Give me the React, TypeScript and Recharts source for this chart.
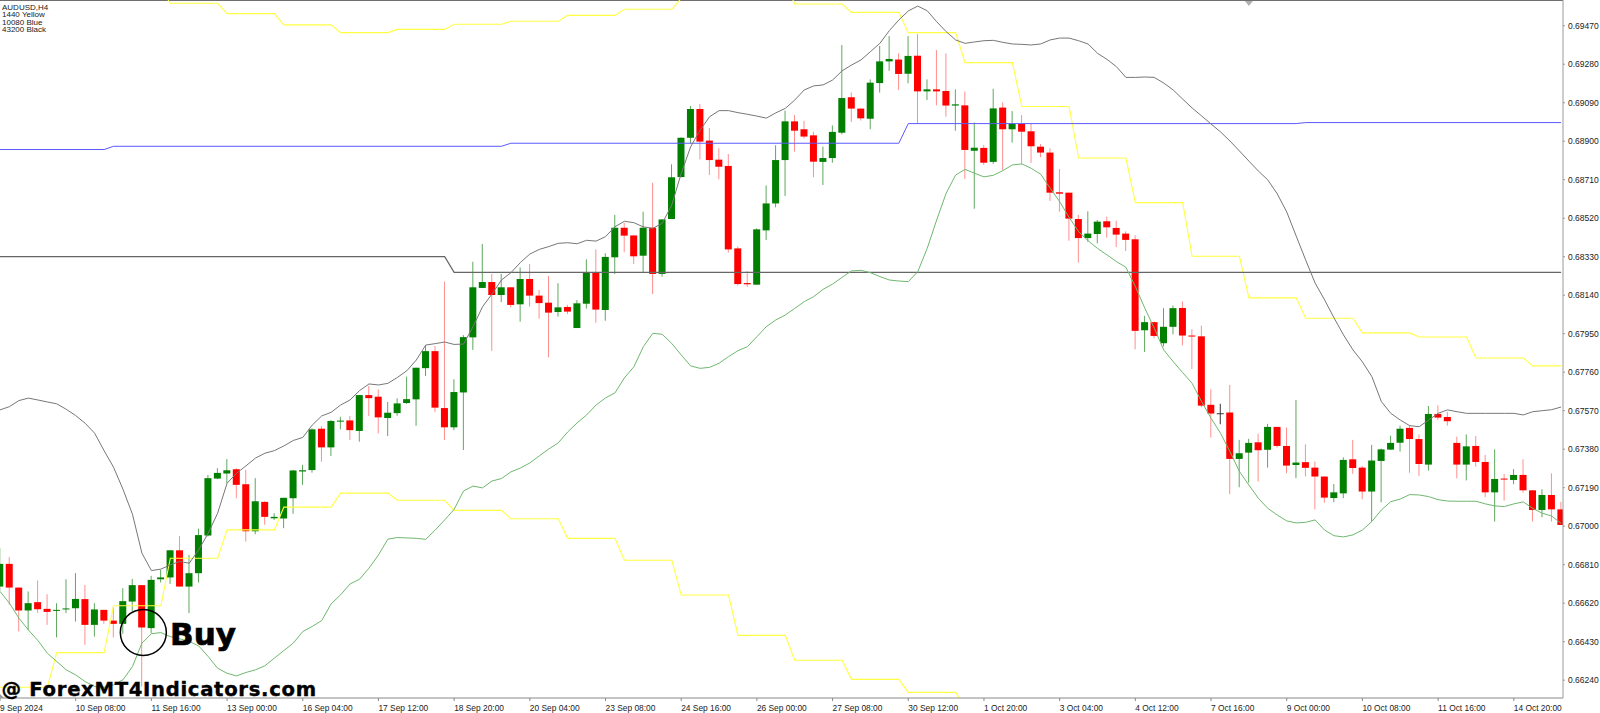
import React from 'react';
import { ComposedChart, Bar, Line, XAxis, YAxis, ReferenceDot, ReferenceLine } from 'recharts';

// AUDUSD H4, prices in points (1 point = 0.00001), one entry per bar
const opens = [
  66702,66814,66697,66584,66625,66592,66582,66589,66595,66640,
  66513,66587,66534,66518,66628,66709,66497,66738,66747,66881,
  66702,66768,66954,67235,67260,67281,67207,66975,67120,67039,
  67038,67138,67270,67277,67481,67389,67516,67522,67470,67647,
  67639,67534,67558,67608,67626,67780,67864,67583,67488,67660,
  67932,68176,68205,68141,68179,68095,68220,68138,68103,68057,
  68082,67978,68098,68254,68067,68327,68473,68435,68335,68473,
  68245,68516,68723,68917,69059,68903,68809,68778,68371,68200,
  68192,68460,68593,68807,68998,68959,68929,68798,68817,68942,
  69117,69061,69011,69187,69294,69303,69233,69322,69146,69156,
  69148,69076,69077,68853,68867,68798,69066,68959,68985,68949,
  68873,68844,68648,68646,68516,68422,68442,68505,68472,68444,
  68416,67967,68007,67903,67984,68077,67941,67937,67599,67555,
  67561,67332,67363,67414,67377,67490,67396,67302,67316,67289,
  67245,67139,67162,67330,67289,67171,67322,67378,67412,67485,
  67430,67304,67554,67539,67411,67304,67396,67317,67167,67235,
  67228,67253,67177,67080,67154,67083,
];
const highs = [
  66891,66847,66697,66678,66732,66664,66620,66738,66768,66710,
  66620,66587,66604,66694,66740,66709,66755,66784,66881,66951,
  66858,66988,67253,67286,67331,67286,67278,67237,67123,67064,
  67140,67278,67303,67483,67494,67524,67540,67544,67647,67692,
  67675,67613,67631,67738,67782,67894,67889,68207,67725,67943,
  68305,68393,68245,68245,68179,68277,68294,68166,68235,68199,
  68092,68116,68317,68366,68347,68537,68498,68435,68552,68695,
  68514,68786,68919,69074,69084,68965,68865,68837,68380,68259,
  68470,68682,68880,69051,69029,69001,68947,68873,68978,69375,
  69141,69061,69205,69370,69419,69334,69419,69429,69205,69350,
  69334,69156,69145,68992,68881,69159,69092,69049,69029,68988,
  68886,68865,68763,68646,68536,68554,68511,68528,68508,68455,
  68436,68038,68010,68076,68089,68109,67972,67990,67676,67604,
  67697,67426,67431,67456,67505,67490,67487,67623,67404,67319,
  67245,67208,67340,67426,67297,67401,67383,67447,67496,67500,
  67453,67593,67597,67565,67442,67453,67445,67352,67379,67258,
  67282,67330,67179,67182,67261,67120,
];
const lows = [
  66678,66612,66480,66488,66571,66513,66451,66571,66529,66414,
  66455,66518,66451,66469,66579,66209,66472,66722,66715,66702,
  66571,66722,66949,67232,67212,67138,66924,66960,67007,67031,
  66990,67061,67204,67264,67318,67346,67478,67425,67417,67544,
  67458,67445,67545,67603,67496,67741,67563,67425,67474,67376,
  67870,68176,67865,68106,68080,68009,68083,68024,67833,68034,
  68047,67978,68074,68004,68014,68245,68352,68294,68254,68146,
  68231,68516,68722,68889,68810,68733,68712,68350,68187,68180,
  68192,68412,68574,68630,68849,68914,68722,68684,68794,68934,
  68995,69002,68959,69140,69247,69153,69186,68988,69103,69077,
  69021,68952,68714,68567,68783,68788,68758,68893,68786,68793,
  68821,68605,68552,68409,68301,68404,68396,68424,68378,68358,
  67873,67860,67928,67887,67947,67893,67776,67587,67437,67503,
  67158,67192,67215,67220,67289,67388,67261,67237,67245,67083,
  67116,67118,67138,67258,67133,67023,67118,67376,67368,67264,
  67248,67274,67524,67496,67236,67226,67294,67143,67023,67126,
  67207,67166,67023,67044,67023,67006,
];
const closes = [
  66814,66697,66584,66620,66590,66577,66587,66594,66641,66513,
  66589,66534,66518,66630,66709,66500,66735,66747,66881,66702,
  66768,66956,67237,67263,67276,67204,66975,67123,67046,67046,
  67140,67275,67276,67478,67389,67519,67521,67474,67647,67632,
  67537,67560,67606,67627,67782,67864,67585,67488,67662,67933,
  68179,68205,68141,68179,68092,68220,68138,68101,68054,68080,
  68059,68100,68254,68069,68329,68473,68434,68332,68473,68245,
  68514,68722,68917,69059,68898,68807,68774,68366,68195,68194,
  68465,68593,68807,68998,68952,68923,68799,68817,68946,69113,
  69061,69013,69189,69294,69306,69232,69321,69146,69156,69146,
  69076,69082,68857,68868,68794,69062,68959,68985,68947,68875,
  68844,68646,68641,68518,68422,68444,68503,68475,68439,68413,
  67964,68007,67939,67984,68076,67941,67936,67595,67556,67555,
  67332,67360,67411,67375,67490,67396,67299,67314,67288,67245,
  67141,67167,67327,67287,67171,67324,67379,67411,67481,67430,
  67307,67554,67536,67518,67304,67394,67317,67167,67233,67230,
  67253,67177,67080,67154,67083,67006,
];
const upperBand = [
  67574,67590,67620,67632,67623,67613,67604,67577,67546,67508,
  67459,67373,67291,67182,67059,66867,66781,66788,66809,66826,
  66817,66883,66965,67064,67212,67261,67298,67336,67360,67373,
  67396,67423,67438,67499,67544,67562,67598,67623,67669,67702,
  67697,67705,67734,67767,67820,67894,67901,67909,67897,67899,
  67985,68083,68146,68215,68251,68301,68343,68366,68380,68396,
  68399,68394,68411,68407,68429,68478,68505,68498,68477,68470,
  68495,68585,68741,68873,68955,69021,69051,69051,69041,69033,
  69024,69014,69040,69062,69103,69153,69173,69178,69202,69247,
  69276,69301,69342,69383,69446,69498,69543,69567,69544,69490,
  69441,69400,69383,69390,69396,69398,69388,69380,69378,69375,
  69380,69400,69409,69409,69396,69380,69334,69304,69268,69215,
  69215,69217,69215,69187,69153,69108,69064,69025,68985,68946,
  68901,68852,68802,68753,68709,68640,68551,68432,68314,68200,
  68117,68028,67944,67870,67811,67738,67615,67557,67524,67496,
  67491,67524,67557,67574,67565,67557,67557,67557,67557,67557,
  67557,67549,67565,67570,67575,67588,
];
const lowerBand = [
  66678,66620,66546,66488,66436,66373,66332,66291,66266,66233,
  66209,66205,66217,66242,66307,66423,66469,66475,66455,66444,
  66431,66409,66357,66299,66274,66261,66278,66291,66311,66349,
  66386,66423,66480,66505,66534,66617,66661,66715,66738,66793,
  66858,66936,66944,66942,66940,66935,66981,67031,67083,67174,
  67198,67189,67223,67235,67268,67287,67312,67347,67381,67411,
  67465,67510,67549,67598,67633,67658,67732,67787,67886,67952,
  67947,67902,67845,67791,67779,67784,67804,67837,67866,67886,
  67935,67985,68018,68042,68075,68108,68133,68169,68195,68228,
  68260,68263,68251,68232,68215,68210,68207,68256,68371,68511,
  68643,68733,68761,68742,68724,68732,68755,68783,68788,68766,
  68737,68668,68602,68524,68454,68409,68371,68339,68306,68278,
  68183,68076,67977,67870,67812,67758,67705,67615,67533,67459,
  67368,67270,67203,67138,67088,67055,67026,67016,67019,67031,
  66981,66953,66947,66957,66981,67023,67080,67121,67134,67156,
  67154,67146,67131,67124,67123,67123,67123,67110,67100,67097,
  67110,67120,67088,67064,67050,67014,
];

// stepped levels as [bar, price] corners, straight between them
const yellowTop = [
  [17,69650],[18,69581],[23,69581],[24,69530],[29,69530],[30,69474],[35,69474],[36,69436],[41,69436],[42,69452],
  [47,69452],[48,69477],[53,69477],[54,69492],[59,69492],[60,69521],[65,69521],[66,69551],[71,69551],[72,69605],
  [83,69680],[84,69577],[89,69577],[90,69536],[95,69536],[96,69436],[101,69436],[102,69288],[107,69288],[108,69071],
  [113,69071],[114,68817],[119,68817],[120,68597],[125,68597],[126,68332],[131,68332],[132,68127],[137,68127],[138,68026],
  [143,68026],[144,67954],[149,67954],[150,67934],[155,67934],[156,67830],[161,67830],[162,67791],[165,67791],
];
const yellowBottom = [
  [0,66205],[5,66205],[6,66376],[11,66376],[12,66607],[17,66607],[18,66842],[23,66842],[24,66982],[29,66982],
  [30,67094],[35,67094],[36,67163],[41,67163],[42,67128],[47,67128],[48,67078],[53,67078],[54,67037],[59,67037],
  [60,66940],[65,66940],[66,66832],[71,66832],[72,66660],[77,66660],[78,66461],[83,66461],[84,66338],[89,66338],
  [90,66244],[95,66244],[96,66180],[101,66180],[102,66109],
];
const blueLevel = [[0,68859],[11,68859],[12,68875],[53,68875],[54,68890],[95,68890],[96,68987],[137,68987],[138,68992],[165,68992]];
const blackLevel = [[0,68330],[47,68330],[48,68253],[165,68253]];

const priceTicks = [69470,69280,69090,68900,68710,68520,68330,68140,67950,67760,67570,67380,67190,67000,66810,66620,66430,66240];
const timeLabels = [
  '9 Sep 2024','10 Sep 08:00','11 Sep 16:00','13 Sep 00:00','16 Sep 04:00','17 Sep 12:00','18 Sep 20:00',
  '20 Sep 04:00','23 Sep 08:00','24 Sep 16:00','26 Sep 00:00','27 Sep 08:00','30 Sep 12:00','1 Oct 20:00',
  '3 Oct 04:00','4 Oct 12:00','7 Oct 16:00','9 Oct 00:00','10 Oct 08:00','11 Oct 16:00','14 Oct 20:00',
];
const BARS_PER_LABEL = 8;
const timeTicks = timeLabels.map((_, i) => i * BARS_PER_LABEL);

const corners = (pairs: number[][]) => new Map(pairs.map(([k, v]) => [k, v]));
const yTop = corners(yellowTop);
const yBottom = corners(yellowBottom);
const blue = corners(blueLevel);
const black = corners(blackLevel);

const rows = opens.map((open, k) => ({
  k,
  open,
  high: highs[k],
  low: lows[k],
  close: closes[k],
  upper: upperBand[k],
  lower: lowerBand[k],
  yellowTop: yTop.get(k) ?? null,
  yellowBottom: yBottom.get(k) ?? null,
  blue: blue.get(k) ?? null,
  black: black.get(k) ?? null,
}));

const AXIS_FONT = '"Liberation Sans", Arial, sans-serif';

function Candle(props: any) {
  const { x, y, width, height, payload } = props;
  const { open, high, low, close } = payload;
  const perPoint = height / (high - low);
  const top = y + (high - Math.max(open, close)) * perPoint;
  const bodyH = Math.max(Math.abs(open - close) * perPoint, 1);
  const mid = x + width / 2;
  const doji = open === close;
  const up = close > open;
  const body = up ? '#007f00' : '#ff0000';
  const wick = doji ? '#333333' : up ? '#5fa85f' : '#ff8f8f';
  return (
    <g>
      <line x1={mid} x2={mid} y1={y} y2={y + height} stroke={wick} strokeWidth={1} />
      {doji ? (
        <line x1={x} x2={x + width} y1={top} y2={top} stroke={wick} strokeWidth={1} />
      ) : (
        <rect x={x} y={top} width={width} height={bodyH} fill={body} />
      )}
    </g>
  );
}

function TimeTick({ x, y, payload }: any) {
  const label = timeLabels[payload.value / BARS_PER_LABEL];
  return (
    <text x={x} y={y + 8} fontSize={8.4} fontFamily={AXIS_FONT} fill="#222" textAnchor="start">
      {label}
    </text>
  );
}

function PriceTick({ x, y, payload }: any) {
  return (
    <text x={x + 1} y={y + 3} fontSize={8.5} fontFamily={AXIS_FONT} fill="#222" textAnchor="start">
      {(payload.value / 100000).toFixed(5)}
    </text>
  );
}

const Marker = ({ cx, cy }: any) => <path d={`M${cx - 4} ${cy + 1}h8l-4 5z`} fill="#b0b0b0" />;
const Corner = ({ cx, cy }: any) => <path d={`M${cx} ${cy - 4}l4 4h-4z`} fill="#999" />;

const levelLine = (key: string, color: string, width = 1) => (
  <Line
    key={key}
    dataKey={key}
    stroke={color}
    strokeWidth={width}
    dot={false}
    activeDot={false}
    connectNulls
    type="linear"
    isAnimationActive={false}
  />
);

export default function App() {
  return (
    <div style={{ position: 'absolute', left: 0, top: 0, width: 1600, height: 713, background: '#fff', overflow: 'hidden' }}>
      <ComposedChart width={1600} height={713} data={rows} margin={{ top: 0, right: 0, bottom: 0, left: 0 }}>
        <XAxis
          dataKey="k"
          type="number"
          domain={[0, 165.2]}
          ticks={timeTicks}
          height={15}
          tick={<TimeTick />}
          tickSize={3}
          interval={0}
          stroke="#8a8a8a"
          allowDataOverflow
        />
        <YAxis
          orientation="right"
          type="number"
          domain={[66152, 69597]}
          ticks={priceTicks}
          width={37}
          tick={<PriceTick />}
          tickSize={2}
          interval={0}
          stroke="#9a9a9a"
          allowDataOverflow
        />
        <ReferenceLine y={69597} stroke="#6f6f6f" strokeWidth={2} ifOverflow="visible" />
        {levelLine('yellowTop', '#ffff44', 1.1)}
        {levelLine('yellowBottom', '#ffff44', 1.1)}
        {levelLine('blue', '#5a5aff')}
        {levelLine('black', '#666666', 1.2)}
        {levelLine('upper', '#777777')}
        {levelLine('lower', '#6fb86f')}
        <Bar dataKey={(d: any) => [d.low, d.high]} barSize={7} shape={<Candle />} isAnimationActive={false} />
        <ReferenceDot x={15.15} y={66475} r={23} fill="none" stroke="#000" strokeWidth={1.5} ifOverflow="visible" />
        <ReferenceDot x={132} y={69597} r={4} shape={<Marker />} ifOverflow="visible" />
        <ReferenceDot x={0} y={66152} r={4} shape={<Corner />} ifOverflow="visible" />
      </ComposedChart>
      <svg width={1600} height={713} style={{ position: 'absolute', left: 0, top: 0, pointerEvents: 'none' }}>
        <g fontFamily={AXIS_FONT} fontSize={8} fill="#222">
          <text x={2} y={10}>AUDUSD,H4</text>
          <text x={2} y={17.3}>1440 Yellow</text>
          <text x={2} y={24.7}>10080 Blue</text>
          <text x={2} y={31.7}>43200 Black</text>
        </g>
        <g fontFamily='"DejaVu Sans", sans-serif' fontWeight={700} fill="#000" stroke="#000">
          <text x={170} y={645} fontSize={31} strokeWidth={0.7}>Buy</text>
          <text x={1.5} y={695.5} fontSize={19.6} letterSpacing={0.7} strokeWidth={0.4}>@ ForexMT4Indicators.com</text>
        </g>
      </svg>
    </div>
  );
}
